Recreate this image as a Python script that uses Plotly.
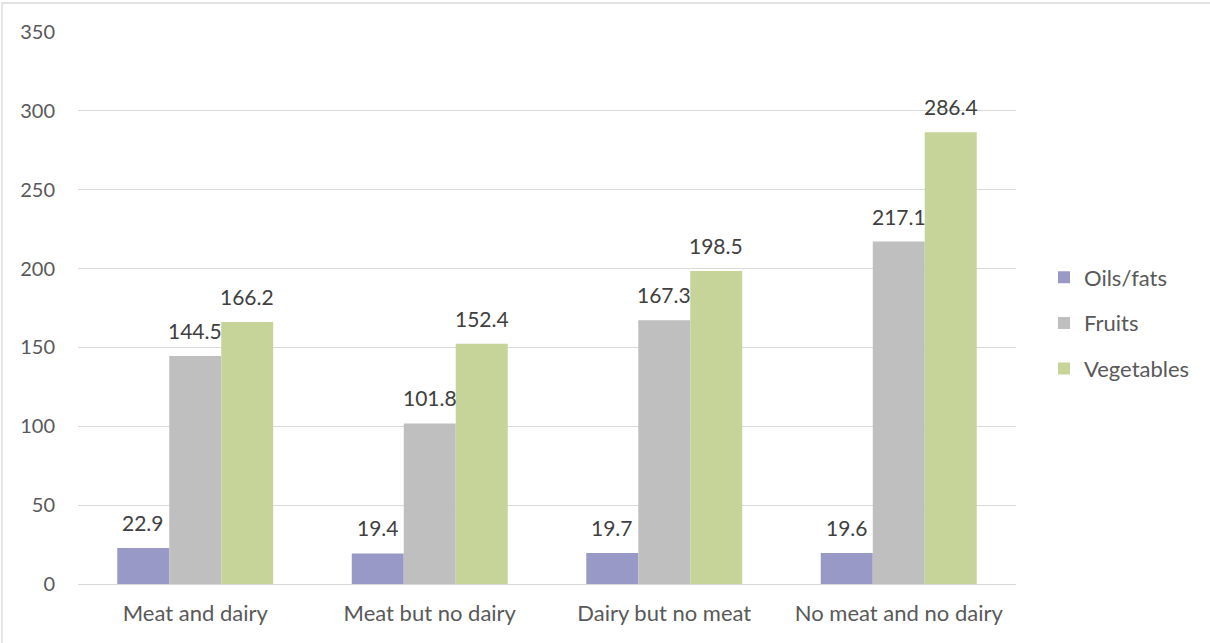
import plotly.graph_objects as go

categories = ["Meat and dairy", "Meat but no dairy", "Dairy but no meat", "No meat and no dairy"]
oils_fats = [22.9, 19.4, 19.7, 19.6]
fruits = [144.5, 101.8, 167.3, 217.1]
vegetables = [166.2, 152.4, 198.5, 286.4]

series = [
    ("Oils/fats", oils_fats, "#9999C8"),
    ("Fruits", fruits, "#BFBFBF"),
    ("Vegetables", vegetables, "#C6D49A"),
]

W, H = 1210, 643
L, R, T, B = 78, 194, 32, 59
BARGAP = 0.335

fig = go.Figure()
for name, vals, color in series:
    fig.add_trace(go.Bar(
        name=name, x=categories, y=vals, legendgroup=name,
        marker=dict(color=color, line=dict(width=0)),
    ))

# value labels above each bar, offset to the bar's slot within its group
n = len(series)
slot = (1 - BARGAP) / n
annotations = []
for k, (name, vals, color) in enumerate(series):
    off = (k - (n - 1) / 2) * slot
    for i, v in enumerate(vals):
        annotations.append(dict(
            x=i + off, y=v, xref="x", yref="y", text=f"{v:.1f}",
            showarrow=False, yanchor="bottom", xanchor="center", yshift=11,
            font=dict(size=21, color="#404040", family="Lato"),
        ))

pw = W - L - R
ph = H - T - B
fig.update_layout(
    width=W, height=H,
    margin=dict(l=L, r=R, t=T, b=B, pad=0),
    paper_bgcolor="white", plot_bgcolor="white",
    barmode="group", bargap=BARGAP, bargroupgap=0,
    font=dict(family="Lato", size=20, color="#595959"),
    showlegend=True,
    legend=dict(x=(1044 - L) / pw, y=0.5 - 15 / ph, xanchor="left", yanchor="middle",
                font=dict(size=22, color="#595959"), tracegroupgap=14,
                itemwidth=30, traceorder="grouped"),
    xaxis=dict(showgrid=False, showline=False, ticks="",
               tickfont=dict(size=22, color="#595959"), ticklabelstandoff=14),
    yaxis=dict(range=[0, 350], dtick=50, showgrid=True, gridcolor="#D9D9D9",
               gridwidth=1.3, zeroline=True, zerolinecolor="#D9D9D9", zerolinewidth=1.3,
               showline=False, ticks="", tickfont=dict(size=20, color="#595959"),
               ticklabelstandoff=22),
    annotations=annotations,
    shapes=[
        dict(type="rect", xref="paper", yref="paper",
             x0=(2 - L) / pw, x1=(W + 5 - L) / pw,
             y0=-(H + 5 - T - ph) / ph, y1=1 + (T - 3) / ph,
             line=dict(color="#D9D9D9", width=1.3), fillcolor="rgba(0,0,0,0)",
             layer="below"),
    ],
)

fig.write_html("out.html")
